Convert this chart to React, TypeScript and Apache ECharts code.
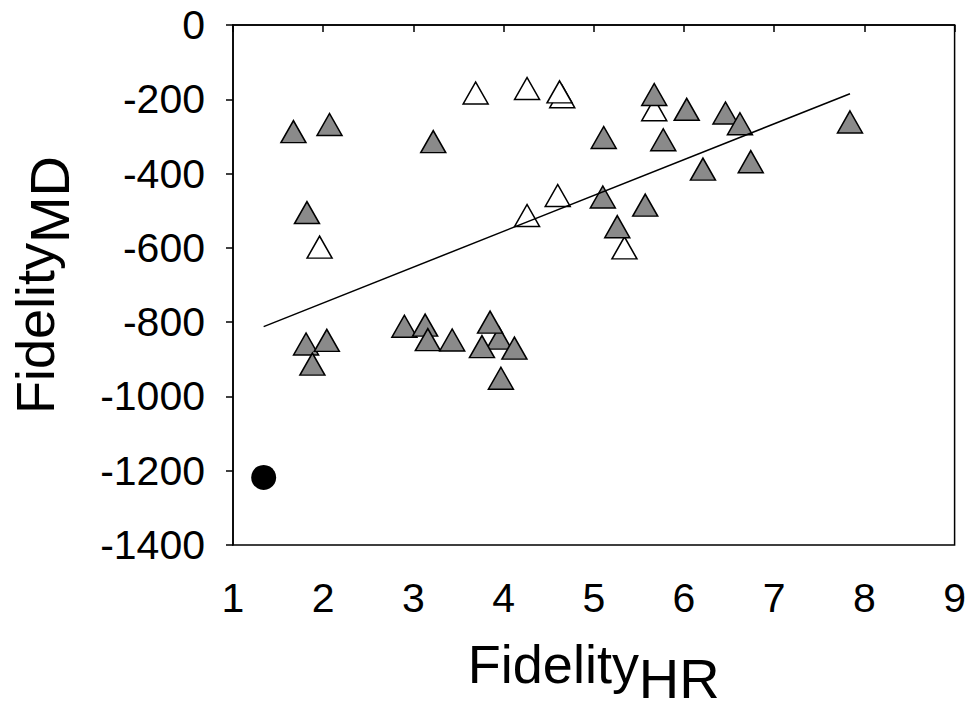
import React, { useEffect, useRef } from "react";
import * as echarts from "echarts";

// Fidelity scores: HR on the x axis, MD on the y axis
const grayPoints: [number, number][] = [
  [1.67, -287], [2.07, -268], [3.22, -314], [1.82, -505],
  [5.67, -187], [6.03, -227], [6.46, -237], [6.62, -266], [7.84, -261],
  [5.11, -303], [5.77, -309], [6.21, -388], [6.74, -368],
  [5.10, -463], [5.57, -485], [5.26, -543],
  [1.81, -859], [2.04, -849], [1.88, -913],
  [2.90, -811], [3.13, -808], [3.16, -847], [3.43, -848],
  [3.95, -843], [3.85, -800], [3.76, -866], [4.12, -870], [3.97, -951],
];

const whitePoints: [number, number][] = [
  [3.69, -183], [4.26, -171], [4.65, -193], [4.62, -180],
  [1.96, -598], [4.26, -513], [4.60, -459], [5.67, -228], [5.34, -600],
];

const circlePoints: [number, number][] = [[1.34, -1218]];

// Fitted trend line, drawn between its two end points
const fitX = [1.34, 7.84];
const fitY = [-812, -185];

const xTicks = [1, 2, 3, 4, 5, 6, 7, 8, 9];
const yTicks = [0, -200, -400, -600, -800, -1000, -1200, -1400];

const FONT = '"Liberation Sans", Arial, Helvetica, sans-serif';

const titleRich = {
  a: { fontSize: 54, fontFamily: FONT, color: "#000", verticalAlign: "bottom", padding: [0, 0, 15, 0] },
  b: { fontSize: 56, fontFamily: FONT, color: "#000", verticalAlign: "bottom" },
};

export default function App() {
  const ref = useRef<HTMLDivElement>(null);

  useEffect(() => {
    if (!ref.current) return;
    const chart = echarts.init(ref.current, null, { renderer: "svg" });

    const axisCommon = {
      axisLine: { show: true, lineStyle: { color: "#000", width: 1.5 } },
      axisTick: { show: true, inside: false, length: 7, lineStyle: { color: "#000", width: 1.5 } },
      splitLine: { show: false },
    };

    chart.setOption({
      animation: false,
      backgroundColor: "#fff",
      grid: {
        left: 232,
        top: 25,
        right: 14,
        bottom: 164,
        show: true,
        borderColor: "#000",
        borderWidth: 1.5,
        backgroundColor: "transparent",
      },
      xAxis: {
        type: "value",
        min: xTicks[0],
        max: xTicks[xTicks.length - 1],
        interval: 1,
        ...axisCommon,
        axisLabel: {
          margin: 32,
          fontSize: 41,
          fontFamily: FONT,
          color: "#000",
          formatter: (v: number) => String(v),
        },
        name: "{a|Fidelity}{b|HR}",
        nameLocation: "middle",
        nameGap: 92,
        nameTextStyle: { rich: titleRich },
      },
      yAxis: {
        type: "value",
        min: yTicks[yTicks.length - 1],
        max: yTicks[0],
        interval: 200,
        ...axisCommon,
        axisLabel: {
          margin: 28,
          fontSize: 41,
          fontFamily: FONT,
          color: "#000",
          formatter: (v: number) => String(v),
        },
        name: "{a|Fidelity}{b|MD}",
        nameLocation: "middle",
        nameRotate: 90,
        nameGap: 156,
        nameTextStyle: { rich: titleRich },
      },
      series: [
        {
          type: "scatter",
          data: whitePoints,
          symbol: "triangle",
          symbolSize: [25, 22],
          itemStyle: { color: "#fff", borderColor: "#000", borderWidth: 1.5, opacity: 1 },
          z: 2,
        },
        {
          type: "scatter",
          data: grayPoints,
          symbol: "triangle",
          symbolSize: [25, 22],
          itemStyle: { color: "#8a8a8a", borderColor: "#000", borderWidth: 1.5, opacity: 1 },
          z: 3,
        },
        {
          type: "scatter",
          data: circlePoints,
          symbol: "circle",
          symbolSize: 25,
          itemStyle: { color: "#000", opacity: 1 },
          z: 3,
        },
        {
          type: "line",
          data: fitX.map((x, i) => [x, fitY[i]]),
          symbol: "none",
          lineStyle: { color: "#000", width: 1.5 },
          z: 4,
        },
      ],
    });

    return () => chart.dispose();
  }, []);

  return (
    <div
      ref={ref}
      style={{ position: "absolute", left: 0, top: 0, width: 969, height: 711 }}
    />
  );
}
